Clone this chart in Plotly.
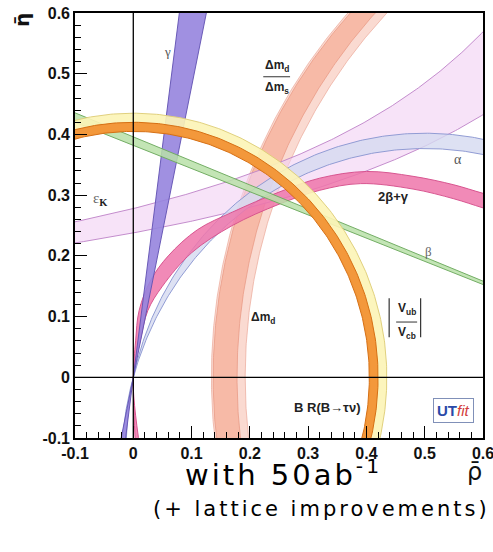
import numpy as np
import plotly.graph_objects as go

# ---- constraint bands in the (rho-bar, eta-bar) plane ----
GAMMA_DEG = [78.2, 82.5]            # gamma: wedge through the origin
TAN_BETA = [0.382, 0.396]           # beta: lines through (1, 0)
VUB_VCB_R = [0.407, 0.435]          # |Vub/Vcb|: circle about the origin
BTAUNU_R = [0.405, 0.420]           # BR(B -> tau nu)
DMD_CENTER = [1.020, 1.054]         # Delta m_d: arcs about (c, 0)
DMD_RADIUS = [0.886, 0.862]
DMD_DMS_CENTER = [1.020, 1.056]     # Delta m_d / Delta m_s
DMD_DMS_RADIUS = [0.883, 0.878]
EPSK_C = [0.326, 0.317]             # epsilon_K: eta = C / (A - rho)
EPSK_A = [1.173, 1.333]
ALPHA_DEG = [102.4, 106.0]          # alpha

# 2beta + gamma band edges (the two edges cross at the origin)
TBG_LEFT_RHO = [0.004, 0.0, 0.004, 0.010, 0.030, 0.060, 0.110, 0.170, 0.250, 0.320, 0.400, 0.480, 0.550, 0.600, 0.660]
TBG_LEFT_ETA = [-0.120, 0.0, 0.060, 0.110, 0.160, 0.200, 0.243, 0.272, 0.305, 0.328, 0.339, 0.331, 0.317, 0.303, 0.288]
TBG_RIGHT_RHO = [0.012, 0.0, 0.012, 0.025, 0.050, 0.100, 0.170, 0.250, 0.320, 0.390, 0.480, 0.550, 0.600, 0.660]
TBG_RIGHT_ETA = [-0.120, 0.0, 0.060, 0.110, 0.150, 0.205, 0.250, 0.285, 0.308, 0.319, 0.310, 0.294, 0.279, 0.262]

TICK_VALS = [-0.1, 0, 0.1, 0.2, 0.3, 0.4, 0.5, 0.6]
TICK_TEXT = ["-0.1", "0", "0.1", "0.2", "0.3", "0.4", "0.5", "0.6"]

fig = go.Figure()


def add_band(x, y, fill, edge, width=1.0, shape="linear"):
    fig.add_trace(go.Scatter(x=x, y=y, mode="lines", fill="toself",
                             fillcolor=fill, line=dict(color=edge, width=width, shape=shape),
                             hoverinfo="skip", showlegend=False))


def arc(cx, cy, r, t0, t1, n=400):
    t = np.radians(np.linspace(t0, t1, n))
    return cx + r * np.cos(t), cy + r * np.sin(t)


def ring(centers, radii, t0, t1):
    x1, y1 = arc(centers[0], 0.0, radii[0], t0, t1)
    x2, y2 = arc(centers[1], 0.0, radii[1], t1, t0)
    return np.concatenate([x1, x2]), np.concatenate([y1, y2])


def alpha_arc(alpha_deg, t0, t1):
    k = 0.5 / np.tan(np.radians(alpha_deg))
    r = np.hypot(0.5, k)
    return arc(0.5, k, r, t0, t1)


# Delta m_d (wide, pale) and Delta m_d / Delta m_s
x, y = ring(DMD_CENTER, DMD_RADIUS, 95, 200)
add_band(x, y, "rgba(250,214,204,0.9)", "rgba(236,170,155,0.9)", 0.8)
x, y = ring(DMD_DMS_CENTER, DMD_DMS_RADIUS, 95, 200)
add_band(x, y, "rgba(247,184,164,0.95)", "rgba(232,150,130,0.9)", 0.8)

# epsilon_K
rho = np.linspace(-0.2, 0.75, 300)
xe = np.concatenate([rho, rho[::-1]])
ye = np.concatenate([EPSK_C[0] / (EPSK_A[0] - rho),
                     (EPSK_C[1] / (EPSK_A[1] - rho))[::-1]])
add_band(xe, ye, "rgba(242,208,244,0.6)", "rgba(190,130,200,0.9)", 1.0)

# alpha
xa1, ya1 = alpha_arc(ALPHA_DEG[0], 0, 192)
xa2, ya2 = alpha_arc(ALPHA_DEG[1], 192, 0)
add_band(np.concatenate([xa1, xa2]), np.concatenate([ya1, ya2]),
         "rgba(212,218,240,0.8)", "rgba(140,152,210,0.95)", 1.0)

# 2beta + gamma
add_band(TBG_LEFT_RHO + TBG_RIGHT_RHO[::-1], TBG_LEFT_ETA + TBG_RIGHT_ETA[::-1],
         "rgba(238,118,170,0.85)", "rgba(214,80,140,0.95)", 1.0, shape="spline")

# gamma wedge
L = 2.0
g1, g2 = np.radians(GAMMA_DEG)
A = (L * np.cos(g1), L * np.sin(g1))
B = (L * np.cos(g2), L * np.sin(g2))
xg = [A[0], B[0], 0, -A[0], -B[0], 0, A[0]]
yg = [A[1], B[1], 0, -A[1], -B[1], 0, A[1]]
add_band(xg, yg, "rgba(150,132,222,0.9)", "rgba(100,84,180,0.95)", 1.0)

# beta
xb = [1.0, -0.4, -0.4, 1.0]
yb = [0.0, TAN_BETA[0] * 1.4, TAN_BETA[1] * 1.4, 0.0]
add_band(xb, yb, "rgba(184,224,168,0.85)", "rgba(110,170,95,0.95)", 1.0)

# |Vub/Vcb| and BR(B -> tau nu)
x, y = ring([0, 0], VUB_VCB_R[::-1], -30, 200)
add_band(x, y, "rgba(252,244,182,0.9)", "rgba(222,205,120,0.95)", 1.0)
x, y = ring([0, 0], BTAUNU_R[::-1], -30, 200)
add_band(x, y, "rgba(242,146,52,0.95)", "rgba(214,112,20,1)", 1.0)

axis_common = dict(
    range=[-0.1, 0.6], tickvals=TICK_VALS, ticktext=TICK_TEXT,
    ticks="inside", ticklen=12, tickwidth=1, tickcolor="black",
    minor=dict(ticks="inside", ticklen=6, dtick=0.02, tick0=0,
               tickcolor="black", tickwidth=1, showgrid=False),
    showline=True, mirror=True, linecolor="black", linewidth=1.6,
    showgrid=False, zeroline=False, automargin=False,
    ticklabeloverflow="allow",
    tickfont=dict(family="Liberation Sans", size=16, color="#111", weight="bold"),
)
fig.update_layout(
    width=493, height=552, margin=dict(l=75, r=10, t=13, b=114),
    paper_bgcolor="white", plot_bgcolor="white", showlegend=False,
    xaxis=axis_common, yaxis=axis_common,
)

# reference axes through the origin
fig.add_shape(type="line", xref="x", yref="paper", x0=0, x1=0, y0=0, y1=1,
              line=dict(color="black", width=1.3), layer="above")
fig.add_shape(type="line", xref="paper", yref="y", x0=0, x1=1, y0=0, y1=0,
              line=dict(color="black", width=1.3), layer="above")

SANS = "Liberation Sans"
SERIF = "Liberation Serif"


def label(x, y, text, size=13, color="#222", family=SANS, **kw):
    fig.add_annotation(x=x, y=y, xref="x", yref="y", text=text, showarrow=False,
                       xanchor="center", yanchor="middle",
                       font=dict(family=family, size=size, color=color), **kw)


def paper_text(px, py, text, size, family="DejaVu Sans", color="black", **kw):
    # px, py: pixel position of the text centre in the 493x552 page
    fig.add_annotation(x=(px - 75) / 408, y=(438 - py) / 425, xref="paper", yref="paper",
                       text=text, showarrow=False, xanchor="center", yanchor="middle",
                       font=dict(family=family, size=size, color=color), **kw)


label(0.058, 0.536, "γ", 13, "#555", SERIF)
label(0.246, 0.513, "<b>Δm<sub>d</sub></b>", 12)
label(0.246, 0.476, "<b>Δm<sub>s</sub></b>", 12)
fig.add_shape(type="line", x0=0.223, x1=0.269, y0=0.495, y1=0.495,
              line=dict(color="#333", width=1), layer="above")
label(0.557, 0.359, "α", 14, "#555", SERIF)
label(0.446, 0.298, "<b>2β+γ</b>", 13)
label(0.506, 0.207, "β", 13, "#666", SERIF)
label(-0.057, 0.294, "<span style='color:#666'>ε</span><sub><b>K</b></sub>", 15, "#222", SERIF)
label(0.223, 0.098, "<b>Δm<sub>d</sub></b>", 12)
label(0.470, 0.113, "<b>V<sub>ub</sub></b>", 12)
label(0.470, 0.073, "<b>V<sub>cb</sub></b>", 12)
fig.add_shape(type="line", x0=0.451, x1=0.487, y0=0.091, y1=0.091,
              line=dict(color="#333", width=1), layer="above")
for xv in (0.439, 0.493):
    fig.add_shape(type="line", x0=xv, x1=xv, y0=0.066, y1=0.130,
                  line=dict(color="#333", width=1.2), layer="above")
label(0.333, -0.050, "<b>B R(B→τν)</b>", 13)
label(0.549, -0.054,
      "<span style='color:#2a4aa8'><b>UT</b></span><span style='color:#d23c3c'><i>fit</i></span>",
      15, bordercolor="#8090b8", borderwidth=1, borderpad=3, bgcolor="white")

# axis titles
paper_text(22, 20, "<b>η̄</b>", 20, color="#111", textangle=-90)
paper_text(474, 472, "ρ̄", 24, color="#111")

# captions under the plot
paper_text(283, 473, "<span style='letter-spacing:3px'>with 50ab<sup>-1</sup></span>", 29)
paper_text(321, 509, "<span style='letter-spacing:3px'>(+ lattice improvements)</span>", 21)

fig.write_html("out.html")
